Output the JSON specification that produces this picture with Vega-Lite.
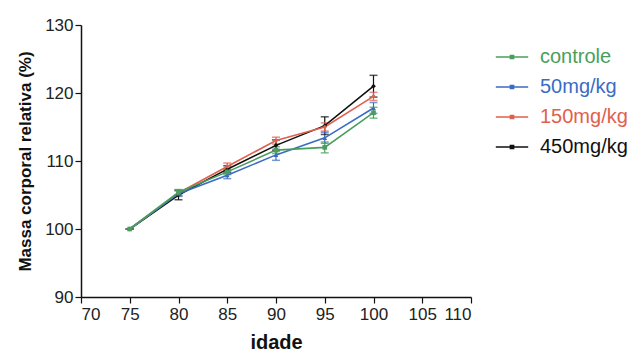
{
  "$schema": "https://vega.github.io/schema/vega-lite/v6.json",
  "autosize": "none",
  "width": 390,
  "height": 272,
  "padding": {"left": 81, "top": 25, "right": 163, "bottom": 61},
  "background": "white",
  "config": {
    "view": {"stroke": null},
    "font": "Liberation Sans",
    "axis": {"grid": false, "domainColor": "#111", "tickColor": "#111", "labelColor": "#222", "labelFontSize": 17, "titleFontSize": 17, "titleFontWeight": "bold", "titleColor": "#111", "tickSize": 6, "domainWidth": 1.5, "tickWidth": 1.2}
  },
  "data": {"values": [
    {"serie": "450mg/kg", "ordem": 1, "idade": 75, "valor": 100, "lo": 100, "hi": 100},
    {"serie": "450mg/kg", "ordem": 1, "idade": 80, "valor": 105.0, "lo": 104.3, "hi": 105.7},
    {"serie": "450mg/kg", "ordem": 1, "idade": 85, "valor": 108.8, "lo": 108.3, "hi": 109.3},
    {"serie": "450mg/kg", "ordem": 1, "idade": 90, "valor": 112.3, "lo": 111.5, "hi": 113.1},
    {"serie": "450mg/kg", "ordem": 1, "idade": 95, "valor": 115.2, "lo": 113.9, "hi": 116.5},
    {"serie": "450mg/kg", "ordem": 1, "idade": 100, "valor": 121.0, "lo": 119.4, "hi": 122.6},
    {"serie": "150mg/kg", "ordem": 2, "idade": 75, "valor": 100, "lo": 100, "hi": 100},
    {"serie": "150mg/kg", "ordem": 2, "idade": 80, "valor": 105.3, "lo": 104.9, "hi": 105.7},
    {"serie": "150mg/kg", "ordem": 2, "idade": 85, "valor": 109.2, "lo": 108.7, "hi": 109.7},
    {"serie": "150mg/kg", "ordem": 2, "idade": 90, "valor": 113.0, "lo": 112.5, "hi": 113.5},
    {"serie": "150mg/kg", "ordem": 2, "idade": 95, "valor": 115.0, "lo": 114.4, "hi": 115.6},
    {"serie": "150mg/kg", "ordem": 2, "idade": 100, "valor": 119.5, "lo": 118.9, "hi": 120.1},
    {"serie": "50mg/kg", "ordem": 3, "idade": 75, "valor": 100, "lo": 100, "hi": 100},
    {"serie": "50mg/kg", "ordem": 3, "idade": 80, "valor": 105.2, "lo": 104.8, "hi": 105.6},
    {"serie": "50mg/kg", "ordem": 3, "idade": 85, "valor": 107.9, "lo": 107.4, "hi": 108.4},
    {"serie": "50mg/kg", "ordem": 3, "idade": 90, "valor": 110.9, "lo": 110.1, "hi": 111.7},
    {"serie": "50mg/kg", "ordem": 3, "idade": 95, "valor": 113.4, "lo": 112.6, "hi": 114.2},
    {"serie": "50mg/kg", "ordem": 3, "idade": 100, "valor": 117.8, "lo": 117.0, "hi": 118.6},
    {"serie": "controle", "ordem": 4, "idade": 75, "valor": 100, "lo": 100, "hi": 100},
    {"serie": "controle", "ordem": 4, "idade": 80, "valor": 105.4, "lo": 105.0, "hi": 105.8},
    {"serie": "controle", "ordem": 4, "idade": 85, "valor": 108.4, "lo": 108.0, "hi": 108.8},
    {"serie": "controle", "ordem": 4, "idade": 90, "valor": 111.6, "lo": 111.1, "hi": 112.1},
    {"serie": "controle", "ordem": 4, "idade": 95, "valor": 112.0, "lo": 111.2, "hi": 112.8},
    {"serie": "controle", "ordem": 4, "idade": 100, "valor": 117.1, "lo": 116.3, "hi": 117.9}
  ]},
  "encoding": {
    "x": {"field": "idade", "type": "quantitative", "title": "idade",
      "scale": {"domain": [70, 110], "nice": false, "zero": false},
      "axis": {"values": [70, 75, 80, 85, 90, 95, 100, 105, 110], "titlePadding": 10, "titleFontSize": 20, "labelPadding": 3}},
    "order": {"field": "ordem", "type": "quantitative"}
  },
  "layer": [
    {"mark": {"type": "rule", "strokeWidth": 1.2},
     "encoding": {"y": {"field": "lo", "type": "quantitative"}, "y2": {"field": "hi"},
       "color": {"field": "serie", "type": "nominal",
         "scale": {"domain": ["controle", "50mg/kg", "150mg/kg", "450mg/kg"], "range": ["#4a9e5c", "#3b6cc4", "#e0604e", "#111111"]},
         "legend": {"title": null, "orient": "none", "legendX": 414, "legendY": 15, "labelFontSize": 20, "labelFont": "Liberation Sans", "symbolType": "M-1,0L1,0M-0.1,-0.1L0.1,-0.1L0.1,0.1L-0.1,0.1Z", "symbolSize": 1050, "symbolStrokeWidth": 1.5, "rowPadding": 3, "labelOffset": 11,
           "encode": {"labels": {"update": {"fill": {"scale": "color", "field": "value"}}}}}}}},
    {"mark": {"type": "tick", "orient": "horizontal", "size": 8, "thickness": 1.5},
     "encoding": {"y": {"field": "lo", "type": "quantitative"}, "color": {"field": "serie", "type": "nominal"}}},
    {"mark": {"type": "tick", "orient": "horizontal", "size": 8, "thickness": 1.5},
     "encoding": {"y": {"field": "hi", "type": "quantitative"}, "color": {"field": "serie", "type": "nominal"}}},
    {"mark": {"type": "line", "strokeWidth": 1.6},
     "encoding": {"order": {"field": "idade", "type": "quantitative"},
       "color": {"field": "serie", "type": "nominal"},
       "y": {"field": "valor", "type": "quantitative", "title": "Massa corporal relativa (%)",
        "scale": {"domain": [90, 130], "nice": false, "zero": false},
        "axis": {"values": [90, 100, 110, 120, 130], "titlePadding": 10}}}},
    {"mark": {"type": "point", "filled": true, "size": 22, "opacity": 1},
     "encoding": {"y": {"field": "valor", "type": "quantitative"},
       "fill": {"field": "ordem", "type": "nominal", "legend": null,
         "scale": {"domain": [4, 3, 2, 1], "range": ["#4a9e5c", "#3b6cc4", "#e0604e", "#111111"]}},
       "shape": {"field": "ordem", "type": "nominal", "legend": null,
         "scale": {"domain": [4, 3, 2, 1], "range": ["square", "triangle-up", "diamond", "diamond"]}}}}
  ]
}
